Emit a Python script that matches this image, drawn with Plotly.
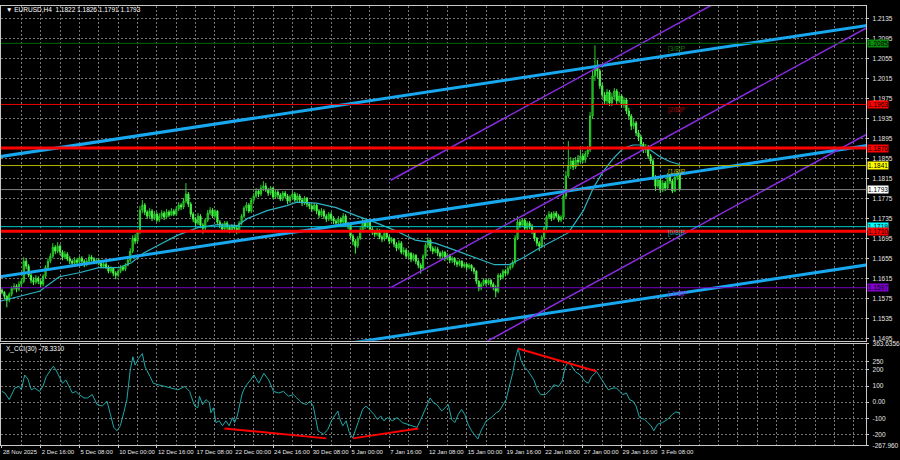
import plotly.graph_objects as go

# EURUSD H4, first bar = 28 Nov 2025 00:00 (one bar per 4 hours)
# prices kept as pips above BASE
BASE = 1.1500
first_open_pips = 92
close_pips = [
    88, 80, 72, 84, 96, 100, 94, 104, 110, 150,
    140, 122, 112, 108, 116, 110, 104, 120, 138, 150,
    160, 178, 170, 180, 168, 158, 164, 155, 150, 146,
    152, 148, 156, 150, 144, 150, 158, 154, 148, 152,
    146, 140, 144, 138, 130, 136, 126, 122, 130, 138,
    134, 142, 152, 170, 196, 190, 208, 252, 262, 248,
    240, 250, 236, 244, 232, 240, 246, 238, 248, 242,
    250, 244, 254, 262, 258, 270, 284, 264, 244, 234,
    226, 240, 222, 216, 232, 246, 252, 240, 250, 228,
    222, 214, 226, 218, 212, 220, 216, 210, 226, 240,
    256, 262, 250, 272, 280, 290, 284, 296, 300, 292,
    286, 296, 278, 288, 282, 274, 286, 280, 270, 278,
    284, 272, 280, 272, 266, 276, 264, 260, 254, 262,
    250, 242, 250, 240, 234, 244, 236, 230, 226, 234,
    228, 240, 224, 222, 200, 190, 180, 196, 212, 228,
    220, 230, 214, 208, 204, 212, 198, 194, 206, 198,
    190, 194, 184, 176, 186, 168, 172, 160, 166, 154,
    162, 150, 142, 136, 160, 182, 192, 176, 170, 174,
    166, 160, 168, 156, 162, 152, 156, 148, 144, 150,
    140, 144, 138, 142, 136, 130, 110, 96, 104, 112,
    106, 112, 104, 98, 90, 122, 118, 130, 126, 136,
    140, 148, 196, 228, 222, 232, 216, 226, 220, 210,
    196, 186, 180, 198, 216, 238, 244, 236, 246, 240,
    232, 238, 280, 320, 340, 350, 338, 352, 348, 360,
    352, 364, 372, 440, 520, 540, 530, 500, 482, 470,
    488, 466, 478, 490, 470, 480, 462, 472, 450, 440,
    420, 426, 406, 398, 384, 372, 378, 360, 350, 318,
    300, 312, 292, 306, 296, 320, 310, 290, 318, 322,
    293,
]
high_pips = [
    96, 90, 82, 88, 100, 106, 104, 110, 116, 158,
    156, 144, 126, 118, 122, 120, 114, 124, 142, 156,
    166, 186, 182, 188, 184, 172, 170, 168, 160, 154,
    158, 156, 160, 160, 154, 154, 164, 162, 158, 156,
    156, 150, 148, 148, 142, 140, 138, 130, 134, 142,
    142, 146, 158, 176, 202, 204, 214, 260, 272, 266,
    252, 256, 254, 250, 248, 246, 252, 250, 254, 252,
    256, 254, 260, 268, 266, 276, 306, 288, 268, 248,
    238, 246, 244, 226, 236, 252, 258, 256, 254, 252,
    232, 226, 230, 230, 222, 224, 224, 220, 230, 244,
    260, 268, 266, 276, 286, 296, 294, 302, 310, 306,
    296, 300, 298, 292, 292, 286, 290, 290, 284, 282,
    290, 288, 286, 284, 276, 280, 278, 268, 264, 266,
    264, 254, 256, 254, 244, 248, 248, 240, 234, 240,
    238, 246, 244, 228, 226, 204, 194, 200, 218, 236,
    232, 234, 232, 218, 212, 216, 214, 202, 210, 210,
    202, 198, 196, 188, 192, 190, 178, 176, 170, 168,
    166, 164, 154, 146, 164, 186, 198, 194, 180, 180,
    178, 170, 172, 170, 166, 164, 160, 158, 152, 154,
    152, 148, 146, 146, 144, 138, 132, 112, 108, 116,
    114, 116, 114, 108, 102, 126, 126, 134, 134, 140,
    146, 152, 202, 240, 234, 236, 234, 230, 230, 224,
    212, 198, 190, 202, 220, 242, 250, 248, 250, 250,
    244, 242, 286, 330, 390, 358, 356, 358, 362, 380,
    366, 370, 380, 448, 530, 581, 552, 534, 506, 488,
    494, 492, 486, 496, 494, 488, 484, 478, 476, 456,
    444, 434, 430, 412, 402, 388, 384, 382, 364, 354,
    322, 318, 316, 312, 310, 326, 324, 314, 322, 330,
    326,
]
low_pips = [
    84, 74, 58, 68, 80, 92, 88, 90, 100, 106,
    134, 118, 106, 102, 104, 104, 98, 100, 116, 134,
    146, 156, 164, 166, 162, 152, 154, 150, 144, 140,
    142, 142, 144, 146, 138, 140, 146, 150, 144, 144,
    142, 136, 136, 134, 126, 126, 120, 114, 118, 126,
    130, 130, 140, 148, 166, 184, 186, 204, 246, 242,
    234, 236, 230, 232, 228, 228, 236, 232, 234, 238,
    240, 240, 240, 250, 252, 254, 266, 258, 238, 228,
    218, 222, 216, 205, 212, 228, 242, 236, 236, 224,
    216, 208, 210, 212, 206, 208, 210, 204, 206, 222,
    236, 250, 246, 246, 268, 276, 278, 280, 290, 288,
    280, 282, 274, 274, 276, 270, 270, 276, 264, 266,
    274, 268, 268, 266, 260, 262, 258, 254, 248, 250,
    244, 236, 238, 234, 228, 230, 230, 224, 220, 222,
    222, 224, 220, 214, 196, 182, 165, 176, 192, 208,
    214, 216, 210, 202, 198, 200, 194, 188, 190, 194,
    184, 186, 178, 170, 172, 164, 162, 156, 154, 148,
    150, 144, 136, 125, 132, 156, 178, 170, 164, 166,
    160, 154, 156, 150, 152, 146, 146, 142, 138, 140,
    136, 136, 132, 134, 130, 124, 104, 90, 92, 100,
    100, 102, 98, 92, 78, 86, 112, 114, 120, 122,
    132, 136, 144, 192, 216, 218, 210, 212, 214, 204,
    190, 180, 170, 176, 194, 212, 234, 230, 232, 236,
    228, 228, 234, 276, 316, 334, 332, 334, 342, 344,
    346, 346, 358, 368, 434, 510, 516, 494, 476, 462,
    464, 460, 460, 472, 464, 466, 456, 456, 444, 432,
    412, 414, 400, 390, 376, 366, 366, 354, 344, 312,
    290, 296, 286, 288, 290, 292, 304, 286, 288, 312,
    291,
]

# moving average read at (bar, price) vertices
ma_bar = [-0.8, 7.4, 15.5, 23.7, 31.9, 40, 48.2, 53.5, 58.4, 64.6,
          72.7, 80.9, 89.1, 97.2, 101.3, 109.5, 117.7, 121.8, 129.9, 138.1,
          146.3, 154.4, 162.6, 170.8, 179, 187.1, 195.3, 203.5, 209.6, 215.7,
          221.9, 228, 234.1, 240.2, 244.3, 248.4, 252.5, 256.6, 260.7, 263.5,
          267.6, 271.7, 275.8, 280]
ma_val = [1.1570, 1.1580, 1.1590, 1.1619, 1.1627, 1.1637, 1.1637, 1.1647, 1.1666, 1.1682,
          1.1702, 1.1717, 1.1723, 1.1721, 1.1735, 1.1751, 1.1761, 1.1768, 1.1766, 1.1757,
          1.1741, 1.1727, 1.1711, 1.1692, 1.1686, 1.1672, 1.1658, 1.1643, 1.1643, 1.1658,
          1.1676, 1.1692, 1.1707, 1.1751, 1.1796, 1.1829, 1.1855, 1.1875, 1.1882, 1.1882,
          1.1873, 1.1859, 1.1849, 1.1843]

# CCI(30) read at (bar, value) vertices
cci_bar = [0, 1.2, 3, 4, 5.3, 7.1, 8, 9.4, 10.7, 12.1,
           13.5, 15.5, 16.9, 18.3, 20.3, 21.2, 22.3, 23.7, 25, 26.4,
           27.8, 29.1, 30.5, 31.9, 33.9, 35.3, 37.3, 39.3, 41.4, 43.4,
           44.8, 46.2, 47.5, 48.9, 50.3, 51.6, 53, 54.1, 55, 56.4,
           58, 59.1, 61.2, 62.5, 64.6, 67.3, 70, 72.7, 75.5, 77.5,
           79.6, 80.9, 81.6, 82.9, 84.3, 85.7, 86.3, 87.4, 88.4, 89.8,
           91.1, 92.5, 93.9, 95.2, 96.1, 97.2, 99.3, 100.6, 102.7, 104.1,
           106.1, 108.2, 110.2, 112.2, 114.3, 116.3, 118.4, 120.4, 121.8, 123.8,
           125.8, 127.2, 128.6, 130.6, 132.8, 134.7, 136.1, 138.1, 138.8, 139.4,
           140.8, 142.2, 143.5, 144.9, 147, 149, 150.4, 151.7, 153.7, 155.1,
           156.5, 157.8, 159.2, 161.3, 163.3, 165.4, 167.4, 169.4, 171.5, 172.8,
           174.9, 176.9, 178.3, 179.7, 181.7, 183, 184.4, 185.8, 187.1, 188.5,
           189.9, 191.2, 192.6, 194, 195.3, 196.6, 198, 200.1, 202.1, 204.2,
           205.5, 206.9, 208.3, 209.6, 211, 212.3, 213.3, 214.4, 215.7, 217.1,
           218.4, 219.8, 221.2, 222.6, 224.6, 226.6, 228, 230, 231.4, 232.8,
           234.1, 235.5, 236.9, 238.9, 240.9, 242.3, 243.6, 245.7, 247.1, 249.1,
           250.5, 252.5, 253.9, 255.2, 256.6, 258, 259.3, 260.7, 262, 263.4,
           265.5, 266.8, 268.2, 269.3, 270.9, 272.9, 275, 277, 278.4, 279.8,
           280]
cci_val = [67, 57, 16, 47, 88, 98, 77, 169, 143, 77,
           88, 67, 98, 159, 200, 224, 200, 159, 118, 138,
           98, 57, 67, 47, 26, 26, 47, -15, -24, 6,
           -76, -157, -178, -147, -66, 16, 200, 282, 230, 271,
           302, 220, 159, 118, 108, 98, 88, 77, 98, 67,
           -24, -35, 37, -15, 16, -4, -66, -35, -127, -116,
           -147, -116, -147, -96, -127, -86, 57, 98, 138, 169,
           118, 179, 138, 67, 57, 67, 37, 47, 26, -4,
           -15, 6, -24, -178, -200, -168, -116, -66, -55, -96,
           -147, -116, -188, -223, -127, -45, -24, -45, -76, -107,
           -86, -116, -96, -116, -96, -127, -137, -147, -157, -116,
           -45, 26, -4, -15, -55, -35, -15, -107, -127, -76,
           -45, -76, -137, -178, -206, -229, -176, -116, -96, -66,
           -55, -15, 16, 98, 179, 282, 333, 261, 220, 200,
           169, 138, 77, 47, 47, 77, 108, 98, 129, 220,
           251, 220, 190, 169, 129, 118, 159, 190, 159, 108,
           77, 88, 88, 67, 47, 57, 16, 6, -24, -96,
           -107, -127, -147, -178, -137, -127, -107, -76, -61, -66,
           -78]

# trend lines on the price panel: (bar, price) -> (bar, price)
blue_x0 = [-1, -1, 140]
blue_y0 = [1.18587, 1.16188, 1.14837]
blue_x1 = [358, 358, 358]
blue_y1 = [1.21211, 1.18812, 1.16431]
purple_x0 = [160.6, 160.6, 160.6]
purple_y0 = [1.18116, 1.15973, 1.13850]
purple_x1 = [358, 358, 358]
purple_y1 = [1.23321, 1.21178, 1.19055]

# divergence lines on CCI
div_x0 = [91.9, 145.0, 213.1]
div_y0 = [-163, -225, 333]
div_x1 = [134.0, 172.0, 245.6]
div_y1 = [-225, -163, 192]

# horizontal levels
level_prices = [1.2085, 1.1963, 1.1876, 1.1841, 1.1793, 1.1719, 1.1710, 1.1597]
murrey_names = ["[3/8]P", "[2/8]P", "[1/8]P", "[0/8]P", "[-1/8]P"]
murrey_prices = [1.2085, 1.1963, 1.1841, 1.1719, 1.1597]

date_ticks = [0, 16, 32, 48, 64, 80, 96, 112, 128, 144, 160, 176, 192, 208, 224, 240, 256, 272]
date_labels = ["28 Nov 2025", "2 Dec 16:00", "5 Dec 08:00", "10 Dec 00:00", "12 Dec 16:00",
               "17 Dec 08:00", "22 Dec 00:00", "24 Dec 16:00", "30 Dec 08:00", "5 Jan 00:00",
               "7 Jan 16:00", "12 Jan 08:00", "15 Jan 00:00", "19 Jan 16:00", "22 Jan 08:00",
               "27 Jan 00:00", "29 Jan 16:00", "3 Feb 08:00"]
price_ticks = [1.2135, 1.2095, 1.2055, 1.2015, 1.1975, 1.1935, 1.1895, 1.1855, 1.1815,
               1.1775, 1.1735, 1.1695, 1.1655, 1.1615, 1.1575, 1.1535, 1.1495]
cci_ticks = [363.6356, 250, 200, 100, 0, -100, -200, -267.96]
cci_tick_labels = ["363.6356", "250", "200", "100", "0.00", "-100", "-200", "-267.960"]

closes = [BASE + p / 10000 for p in close_pips]
highs = [BASE + p / 10000 for p in high_pips]
lows = [BASE + p / 10000 for p in low_pips]
opens = [BASE + first_open_pips / 10000] + closes[:-1]
bars = list(range(len(closes)))

FONT = "Liberation Sans Narrow, Liberation Sans, Arial, sans-serif"
FS = 6.5
GRID = "#767676"
DASH = "2px,2px"
FRAME = "#C8C8C8"
TXT = "#E6E6E6"
W, H = 900, 460

fig = go.Figure()

fig.add_trace(go.Candlestick(
    x=bars, open=opens, high=highs, low=lows, close=closes,
    increasing=dict(line=dict(color="#28D028", width=1), fillcolor="#0A800A"),
    decreasing=dict(line=dict(color="#4CF54C", width=1), fillcolor="#4CF54C"),
    whiskerwidth=0, hoverinfo="skip", xaxis="x", yaxis="y",
))
fig.add_trace(go.Scatter(x=ma_bar, y=ma_val, mode="lines",
                         line=dict(color="#2AB4C4", width=1.2), hoverinfo="skip"))

for x0, y0, x1, y1 in zip(blue_x0, blue_y0, blue_x1, blue_y1):
    fig.add_trace(go.Scatter(x=[x0, x1], y=[y0, y1], mode="lines",
                             line=dict(color="#18A8F0", width=3), hoverinfo="skip"))
for x0, y0, x1, y1 in zip(purple_x0, purple_y0, purple_x1, purple_y1):
    fig.add_trace(go.Scatter(x=[x0, x1], y=[y0, y1], mode="lines",
                             line=dict(color="#8A2BE2", width=1.5), hoverinfo="skip"))

fig.add_trace(go.Scatter(x=cci_bar, y=cci_val, mode="lines", xaxis="x2", yaxis="y2",
                         line=dict(color="#1FA8A8", width=1), hoverinfo="skip"))
for x0, y0, x1, y1 in zip(div_x0, div_y0, div_x1, div_y1):
    fig.add_trace(go.Scatter(x=[x0, x1], y=[y0, y1], mode="lines", xaxis="x2", yaxis="y2",
                             line=dict(color="#FF0000", width=2), hoverinfo="skip"))

level_colors = ["#006400", "#F00000", "#FF0000", "#B4B400", "#808080", "#00C8C8", "#FF0000", "#7B00C8"]
level_widths = [1, 1, 3, 1, 1, 1, 3, 1]
box_colors = ["#0B8A0B", "#FF0000", "#FF0000", "#FFFF00", "#FFFFFF", "#00FFFF", "#FF0000", "#8000D0"]
for price, col, wd in zip(level_prices, level_colors, level_widths):
    fig.add_hline(y=price, line=dict(color=col, width=wd), yref="y")

annotations = []
for price, bg in zip(level_prices, box_colors):
    annotations.append(dict(
        x=877 / W, xref="paper", xanchor="left", y=price, yref="y", yanchor="middle",
        text=f"{price:.4f}", showarrow=False, bgcolor=bg, borderpad=0,
        font=dict(family=FONT, size=FS, color="#000000"),
    ))

murrey_colors = ["#127A12", "#B00000", "#C0C000", "#00B0B0", "#8A2BE2"]
for name, price, col in zip(murrey_names, murrey_prices, murrey_colors):
    annotations.append(dict(
        x=274.2, xref="x", xanchor="left", y=price, yref="y", yanchor="top",
        text=name, showarrow=False, font=dict(family=FONT, size=FS, color=col),
    ))

annotations.append(dict(
    x=4 / W, xref="paper", xanchor="left", y=1 - 6 / H, yref="paper", yanchor="middle",
    text="▼ EURUSD,H4  1.1822 1.1826 1.1791 1.1793", showarrow=False,
    font=dict(family=FONT, size=FS, color="#FFFFFF"),
))
annotations.append(dict(
    x=4 / W, xref="paper", xanchor="left", y=1 - 350 / H, yref="paper", yanchor="middle",
    text="X_CCI(30) -78.3310", showarrow=False,
    font=dict(family=FONT, size=FS, color="#FFFFFF"),
))

x_common = dict(
    domain=[1 / W, 876 / W], range=[-0.41, 357.1],
    tickmode="array", tickvals=date_ticks, ticktext=date_labels, tickangle=0,
    showgrid=True, gridcolor=GRID, griddash=DASH, gridwidth=1,
    minor=dict(tickmode="linear", tick0=0, dtick=8, showgrid=True,
               gridcolor=GRID, griddash=DASH, gridwidth=1),
    showline=True, mirror=True, linecolor=FRAME, linewidth=1,
    zeroline=False, fixedrange=True,
)
y_common = dict(
    side="right", tickmode="array", ticks="outside", ticklen=2, tickcolor=FRAME,
    ticklabelstandoff=2,
    showgrid=True, gridcolor=GRID, griddash=DASH,
    showline=True, mirror=True, linecolor=FRAME, linewidth=1,
    zeroline=False, fixedrange=True,
    tickfont=dict(family=FONT, size=FS, color=TXT),
)

fig.update_layout(
    width=W, height=H, autosize=False,
    margin=dict(l=0, r=0, t=0, b=0),
    paper_bgcolor="#000000", plot_bgcolor="#000000",
    showlegend=False, hovermode=False,
    font=dict(family=FONT, size=FS, color=TXT),
    xaxis=dict(anchor="y", showticklabels=False, ticks="",
               rangeslider=dict(visible=False), **x_common),
    xaxis2=dict(anchor="y2", matches="x", showticklabels=True,
                ticks="outside", ticklen=2, tickcolor=FRAME,
                ticklabelposition="outside right", ticklabelstandoff=1,
                tickfont=dict(family=FONT, size=6, color=TXT), **x_common),
    yaxis=dict(domain=[118 / H, 458 / H], range=[1.14911, 1.21596], anchor="x",
               tickvals=price_ticks, ticktext=[f"{v:.4f}" for v in price_ticks], **y_common),
    yaxis2=dict(domain=[11.9 / H, 115.1 / H], range=[-267.96, 363.6356], anchor="x2",
                tickvals=cci_ticks, ticktext=cci_tick_labels, **y_common),
    annotations=annotations,
)

# page body has a default 8px margin; drop it so the figure sits at the window corner
fig.write_html("out.html", config={"displayModeBar": False},
               post_script="document.body.style.margin='0';")
